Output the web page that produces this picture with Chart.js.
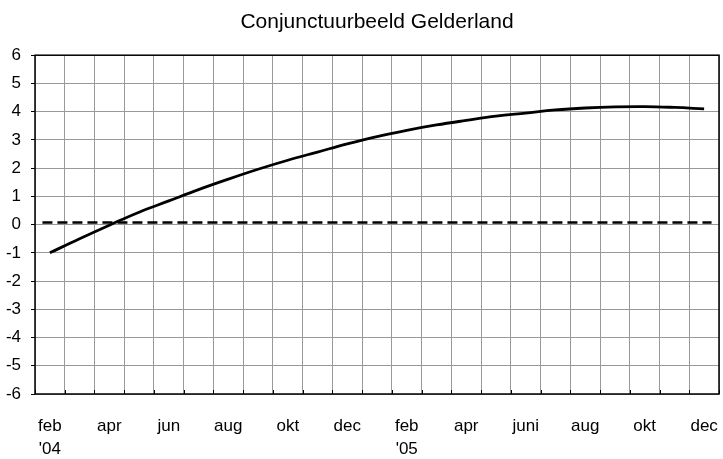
<!DOCTYPE html>
<html>
<head>
<meta charset="utf-8">
<script src="https://cdn.jsdelivr.net/npm/chart.js@4/dist/chart.umd.min.js"></script>
<style>
  html, body { margin: 0; padding: 0; background: #fff; }
  #wrap { width: 723px; height: 459px; }
</style>
</head>
<body>
<div id="wrap"><canvas id="chart"></canvas></div>
<script>
const months = ['feb', 'mrt', 'apr', 'mei', 'jun', 'jul', 'aug', 'sep', 'okt', 'nov', 'dec', 'jan',
                'feb', 'mrt', 'apr', 'mei', 'juni', 'jul', 'aug', 'sep', 'okt', 'nov', 'dec'];
const yearLabels = { 0: "'04", 12: "'05" };
const conjunctuur = [-1.0, -0.5, -0.02, 0.44, 0.84, 1.24, 1.61, 1.96, 2.28, 2.57, 2.86, 3.12,
                     3.34, 3.53, 3.69, 3.84, 3.95, 4.06, 4.13, 4.17, 4.18, 4.15, 4.10];
const refLevel = 0.07;
const refSpan = [0.25, 22.75];
const yTicks = [-6, -5, -4, -3, -2, -1, 0, 1, 2, 3, 4, 5, 6];

const font = 'Liberation Sans, Arial, Helvetica, sans-serif';

const frame = {
  id: 'frame',
  afterDatasetsDraw(chart) {
    const { ctx, chartArea: a } = chart;
    ctx.save();
    ctx.strokeStyle = '#000';
    ctx.lineWidth = 1.5;
    ctx.strokeRect(a.left, a.top, a.right - a.left, a.bottom - a.top);
    // small inward tick marks on the bottom axis
    ctx.lineWidth = 1;
    const x = chart.scales.x;
    for (let i = 0; i <= months.length; i++) {
      const px = Math.round(x.getPixelForValue(i - 0.5)) + 0.5;
      ctx.beginPath();
      ctx.moveTo(px, a.bottom);
      ctx.lineTo(px, a.bottom - 4);
      ctx.stroke();
    }
    ctx.restore();
  }
};

new Chart(document.getElementById('chart'), {
  type: 'line',
  data: {
    labels: months,
    datasets: [
      {
        label: 'Conjunctuurbeeld',
        data: conjunctuur,
        borderColor: '#000',
        borderWidth: 2.8,
        pointRadius: 0,
        tension: 0.4,
        fill: false
      },
      {
        label: 'nullijn',
        xAxisID: 'xr',
        data: refSpan.map(v => ({ x: v, y: refLevel })),
        borderColor: '#000',
        borderWidth: 2.5,
        borderDash: [10, 5],
        pointRadius: 0,
        fill: false
      }
    ]
  },
  options: {
    responsive: true,
    maintainAspectRatio: false,
    animation: false,
    layout: { padding: { left: 0, right: 4, top: 0, bottom: 0 } },
    plugins: {
      legend: { display: false },
      tooltip: { enabled: false },
      title: {
        display: true,
        fullSize: false,
        text: 'Conjunctuurbeeld Gelderland',
        color: '#000',
        font: { family: font, size: 21, weight: 'normal' },
        padding: { top: 10, bottom: 20 }
      }
    },
    scales: {
      x: {
        offset: true,
        grid: { color: '#999', lineWidth: 1, offset: true, drawTicks: false },
        border: { display: false },
        ticks: {
          autoSkip: false,
          maxRotation: 0,
          color: '#000',
          padding: 20,
          font: { family: font, size: 17, lineHeight: 1.4 },
          callback: (v, i) => i % 2 === 0 ? (yearLabels[i] ? [months[i], yearLabels[i]] : months[i]) : ''
        },
        afterFit: s => { s.height = 65; s.paddingLeft = 0; s.paddingRight = 0; }
      },
      xr: {
        type: 'linear',
        display: false,
        min: 0,
        max: months.length
      },
      y: {
        min: -6,
        max: 6,
        afterBuildTicks: s => { s.ticks = yTicks.map(v => ({ value: v })); },
        grid: { color: '#999', lineWidth: 1, tickLength: 4, tickColor: '#000' },
        border: { display: false },
        ticks: {
          color: '#000',
          padding: 10,
          font: { family: font, size: 17 }
        },
        afterFit: s => { s.width = 35; s.paddingTop = 0; s.paddingBottom = 0; }
      }
    }
  },
  plugins: [frame]
});
</script>
</body>
</html>
